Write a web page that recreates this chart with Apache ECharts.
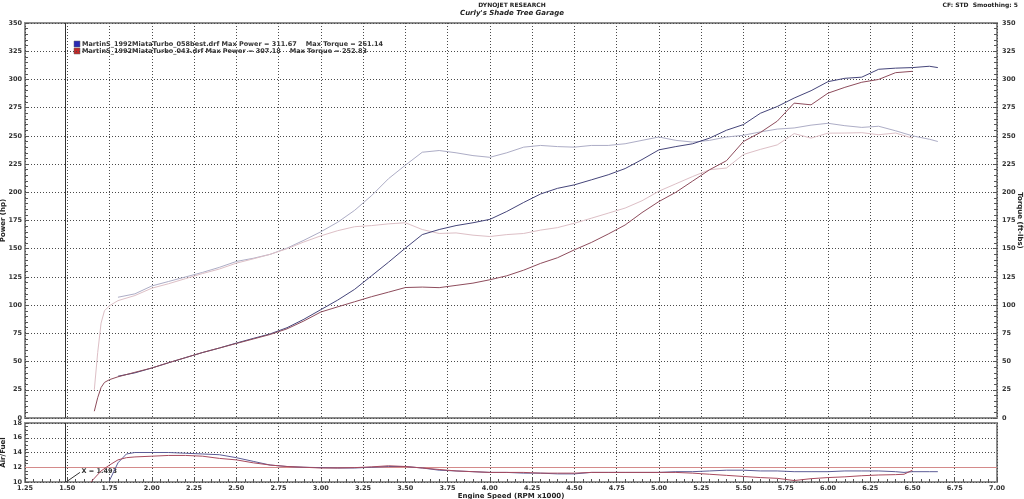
<!DOCTYPE html>
<html>
<head>
<meta charset="utf-8">
<script src="https://cdn.jsdelivr.net/npm/echarts/dist/echarts.min.js"></script>
<style>
  html, body { margin: 0; padding: 0; background: #fff; }
  #myChart { width: 1024px; height: 499px; }
</style>
</head>
<body>
<div id="myChart"></div>
<script>
// engine speed (RPM x1000) for the power / torque runs
const rpm = [1.66, 1.68, 1.70, 1.72, 1.75, 1.80,
  1.9, 2.0, 2.1, 2.2, 2.3, 2.4, 2.5, 2.6, 2.7, 2.8, 2.9,
  3.0, 3.1, 3.2, 3.3, 3.4, 3.5, 3.6, 3.7, 3.8, 3.9,
  4.0, 4.1, 4.2, 4.3, 4.4, 4.5, 4.6, 4.7, 4.8, 4.9,
  5.0, 5.1, 5.2, 5.3, 5.4, 5.5, 5.6, 5.7, 5.8, 5.9,
  6.0, 6.1, 6.2, 6.3, 6.4, 6.5, 6.6, 6.65];

// run 058best
const powerA = [null, null, null, null, null, 37,
  40, 44.3, 49, 53.5, 58, 62, 66.4, 70.5, 74.5, 80, 87.5,
  96, 104.5, 114, 126, 138, 150.5, 162.5, 167, 170.5, 173,
  176, 183, 191, 198.5, 203.5, 206.6, 211, 215.5, 221, 229,
  237.6, 240.5, 243, 248, 255, 260, 270, 276, 283.5, 290,
  298, 301, 302, 309, 310, 310.5, 311.67, 310.5];
const torqueA = [null, null, null, null, null, 107,
  110, 117, 121, 125, 129, 133.5, 138.7, 141.5, 145, 150.5, 157.5,
  165, 173.5, 184, 197, 212, 224, 235.5, 237, 235, 232.5,
  231, 235, 240, 241.5, 240.5, 240, 241.5, 241.5, 243, 246,
  249, 246, 244.5, 246, 249, 250.5, 253.5, 256, 257, 259.5,
  261.14, 259, 257.5, 258.5, 254.5, 250, 247, 245];

// run 043
const powerB = [6, 18, 27, 31.5, 34, 36.5,
  40.5, 44.3, 49, 53.5, 58, 62, 66, 70, 74, 79, 86,
  93.9, 98.5, 103, 107.5, 111.5, 115.6, 116, 115.5, 117.5, 119.5,
  122.5, 126, 131, 137, 142, 149, 155.5, 163, 171, 182,
  191.8, 200, 210, 220, 228, 245, 253, 263, 279, 277.5,
  287.8, 293, 297.5, 300, 306, 307.18, null, null];
const torqueB = [25, 58, 84, 95, 99.5, 104,
  108.5, 115, 119, 123.5, 128, 132, 137.2, 141, 145, 150, 156,
  161.4, 166, 169.5, 170.5, 172, 173, 167, 163.5, 164, 162,
  160.8, 162.5, 163.5, 166.5, 168.7, 172.6, 177, 181.5, 186, 192.5,
  201, 207.5, 214, 220, 221.5, 233.5, 238, 242, 252, 248,
  252.4, 252.5, 252.83, 251, 252.5, 248, null, null];

// air / fuel panel
const afrRpm = [1.64, 1.70, 1.75, 1.80, 1.85, 1.90,
  2.0, 2.1, 2.2, 2.3, 2.4, 2.5, 2.6, 2.7, 2.8, 2.9,
  3.0, 3.1, 3.2, 3.3, 3.4, 3.5, 3.6, 3.7, 3.8, 3.9,
  4.0, 4.1, 4.2, 4.3, 4.4, 4.5, 4.6, 4.7, 4.8, 4.9,
  5.0, 5.1, 5.2, 5.3, 5.4, 5.5, 5.6, 5.7, 5.8, 5.9,
  6.0, 6.1, 6.2, 6.3, 6.4, 6.45, 6.5, 6.6, 6.65];
const afrA = [null, null, 10.2, 12.6, 13.8, 14.0,
  14.0, 14.0, 13.9, 13.8, 13.7, 13.3, 12.8, 12.3, 12.1, 12.0,
  11.95, 11.9, 11.9, 12.0, 12.1, 12.1, 11.9, 11.6, 11.5, 11.4,
  11.3, 11.3, 11.2, 11.2, 11.1, 11.1, 11.3, 11.3, 11.3, 11.3,
  11.3, 11.4, 11.4, 11.5, 11.6, 11.6, 11.5, 11.5, 11.4, 11.4,
  11.4, 11.5, 11.5, 11.5, 11.4, 11.3, 11.4, 11.4, 11.4];
const afrB = [10.0, 11.5, 12.3, 13.0, 13.3, 13.4,
  13.5, 13.6, 13.6, 13.5, 13.2, 13.0, 12.6, 12.3, 12.1, 12.0,
  11.9, 11.9, 11.95, 12.05, 12.2, 12.1, 11.9, 11.7, 11.5, 11.4,
  11.3, 11.3, 11.3, 11.2, 11.2, 11.2, 11.3, 11.3, 11.3, 11.3,
  11.3, 11.3, 11.2, 11.05, 10.9, 10.75, 10.6, 10.5, 10.2, 10.45,
  10.6, 10.7, 10.85, 10.95, 11.0, 11.05, 11.6, null, null];

const runNames = ["MartinS_1992MiataTurbo_058best.drf", "MartinS_1992MiataTurbo_043.drf"];
const maxPower = [311.67, 307.18];
const maxTorque = [261.14, 252.83];
const cursorX = 1.493;
const afrTarget = 12;

const FONT = '"DejaVu Sans", Verdana, sans-serif';

function pairs(xs, ys) {
  return xs.map((x, i) => [x, ys[i]]).filter(p => p[1] != null);
}

let chart = document.getElementById("myChart");
let myChart = echarts.init(chart, null, { renderer: "canvas" });

const gridLine = { show: true, lineStyle: { color: "#4a4a4a", type: [1, 2], width: 1 } };
const lbl = { fontFamily: FONT, fontSize: 6.5, fontWeight: "bold", color: "#333" };
const nameStyle = { fontFamily: FONT, fontSize: 7, fontWeight: "bold", color: "#222" };

function line(name, data, color, xi, yi) {
  return {
    name: name, type: "line", data: data, xAxisIndex: xi, yAxisIndex: yi,
    showSymbol: false, symbol: "none", smooth: false, silent: true,
    lineStyle: { color: color, width: 1 }, z: 5
  };
}

let option = {
  animation: false,
  backgroundColor: "#fff",
  grid: [
    { left: 25, right: 27, top: 23, bottom: 81, show: true, borderColor: "#8e8e8e", borderWidth: 2, outerBoundsMode: "none", containLabel: false },
    { left: 25, right: 27, top: 423, bottom: 17, show: true, borderColor: "#8e8e8e", borderWidth: 2, outerBoundsMode: "none", containLabel: false }
  ],
  xAxis: [
    {
      gridIndex: 0, type: "value", min: 1.25, max: 7, interval: 0.25,
      axisLine: { show: false }, axisTick: { show: false }, axisLabel: { show: false },
      splitLine: gridLine
    },
    {
      gridIndex: 1, type: "value", min: 1.25, max: 7, interval: 0.25,
      name: "Engine Speed (RPM x1000)", nameLocation: "middle", nameGap: 11, nameMoveOverlap: false,
      nameTextStyle: nameStyle,
      axisLine: { show: false },
      axisTick: { show: true, inside: true, length: 4, lineStyle: { color: "#555" } },
      minorTick: { show: true, splitNumber: 5, length: 3, lineStyle: { color: "#555" } },
      axisLabel: Object.assign({ margin: 3, formatter: v => v.toFixed(2) }, lbl),
      splitLine: gridLine
    }
  ],
  yAxis: [
    {
      gridIndex: 0, type: "value", min: 0, max: 350, interval: 25, position: "left",
      name: "Power (hp)", nameLocation: "middle", nameGap: 18, nameRotate: 90, nameMoveOverlap: false,
      nameTextStyle: nameStyle,
      axisLine: { show: false },
      axisTick: { show: true, inside: true, length: 4, lineStyle: { color: "#555" } },
      minorTick: { show: true, splitNumber: 5, length: 3, lineStyle: { color: "#555" } },
      axisLabel: Object.assign({ margin: 3 }, lbl),
      splitLine: gridLine
    },
    {
      gridIndex: 0, type: "value", min: 0, max: 350, interval: 25, position: "right",
      name: "Torque (ft-lbs)", nameLocation: "middle", nameGap: 19, nameRotate: -90, nameMoveOverlap: false,
      nameTextStyle: nameStyle,
      axisLine: { show: false },
      axisTick: { show: true, inside: true, length: 4, lineStyle: { color: "#555" } },
      minorTick: { show: true, splitNumber: 5, length: 3, lineStyle: { color: "#555" } },
      axisLabel: Object.assign({ margin: 5 }, lbl),
      splitLine: { show: false }
    },
    {
      gridIndex: 1, type: "value", min: 10, max: 18, interval: 2,
      name: "Air/Fuel", nameLocation: "middle", nameGap: 18, nameRotate: 90, nameMoveOverlap: false,
      nameTextStyle: nameStyle,
      axisLine: { show: false },
      axisTick: { show: true, inside: true, length: 4, lineStyle: { color: "#555" } },
      minorTick: { show: true, splitNumber: 4, length: 3, lineStyle: { color: "#555" } },
      axisLabel: Object.assign({ margin: 3 }, lbl),
      splitLine: gridLine
    }
  ],
  graphic: [
    { type: "text", x: 512, y: 2, style: { text: "DYNOJET RESEARCH", align: "center", font: "bold 6px " + FONT, fill: "#222" } },
    { type: "text", x: 512, y: 10, style: { text: "Curly's Shade Tree Garage", align: "center", font: "italic bold 7px " + FONT, fill: "#222" } },
    { type: "text", x: 1018, y: 2, style: { text: "CF: STD  Smoothing: 5", align: "right", font: "bold 6px " + FONT, fill: "#222" } },
    { type: "rect", shape: { x: 74, y: 41, width: 6, height: 6 }, style: { fill: "#2a2ab4", stroke: "#666", lineWidth: 0.5 } },
    { type: "rect", shape: { x: 74, y: 48, width: 6, height: 6 }, style: { fill: "#c02828", stroke: "#666", lineWidth: 0.5 } },
    { type: "text", x: 82, y: 41, style: { text: runNames[0] + " Max Power = " + maxPower[0] + "    Max Torque = " + maxTorque[0], font: "bold 6.5px " + FONT, fill: "#333" } },
    { type: "text", x: 82, y: 48, style: { text: runNames[1] + " Max Power = " + maxPower[1] + "    Max Torque = " + maxTorque[1], font: "bold 6.5px " + FONT, fill: "#333" } }
  ],
  series: [
    line("torqueA", pairs(rpm, torqueA), "#adadc6", 0, 1),
    line("torqueB", pairs(rpm, torqueB), "#ddbfc6", 0, 1),
    Object.assign(line("powerA", pairs(rpm, powerA), "#45457a", 0, 0), {
      markLine: {
        silent: true, symbol: "none", label: { show: false },
        lineStyle: { color: "#333", type: "solid", width: 1 },
        data: [{ xAxis: cursorX }]
      }
    }),
    line("powerB", pairs(rpm, powerB), "#8e4c5c", 0, 0),
    Object.assign(line("afrA", pairs(afrRpm, afrA), "#5c5c96", 1, 2), {
      markLine: {
        silent: true, symbol: "none",
        data: [
          { yAxis: afrTarget, lineStyle: { color: "#d48a8a", type: "solid", width: 1 }, label: { show: false } },
          { xAxis: cursorX, lineStyle: { color: "#333", type: "solid", width: 1 }, label: { show: false } },
          [
            { coord: [cursorX, 10], lineStyle: { color: "#333", type: "solid", width: 1 } },
            {
              coord: [1.575, 11.3],
              label: {
                show: true, position: "end", formatter: "X = " + cursorX, distance: 2,
                fontFamily: FONT, fontSize: 6.5, fontWeight: "bold", color: "#333"
              }
            }
          ]
        ]
      }
    }),
    line("afrB", pairs(afrRpm, afrB), "#a84a5e", 1, 2)
  ]
};

myChart.setOption(option);
</script>
</body>
</html>
